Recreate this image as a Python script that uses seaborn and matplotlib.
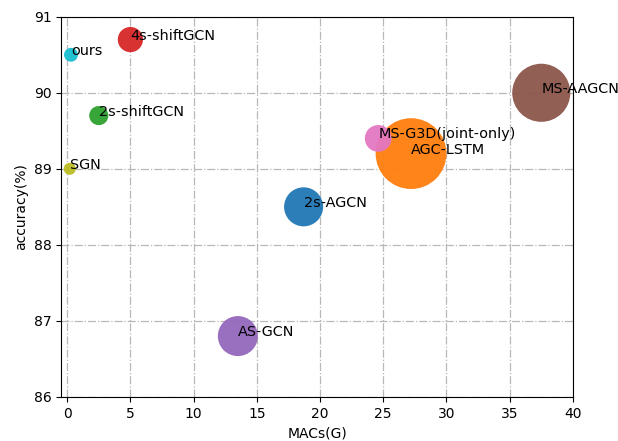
import matplotlib
matplotlib.use("Agg")
import matplotlib.pyplot as plt
import seaborn as sns
import pandas as pd

models = ["2s-AGCN", "AS-GCN", "2s-shiftGCN", "4s-shiftGCN", "MS-AAGCN",
          "AGC-LSTM", "MS-G3D(joint-only)", "SGN", "ours"]
macs = [18.7, 13.5, 2.5, 5.0, 37.5, 27.2, 24.6, 0.2, 0.3]
accuracy = [88.5, 86.8, 89.7, 90.7, 90.0, 89.2, 89.4, 89.0, 90.5]
bubble = [790, 830, 190, 330, 1750, 2600, 370, 75, 100]
colors = ["#1f77b4", "#9467bd", "#2ca02c", "#d62728", "#8c564b",
          "#ff7f0e", "#e377c2", "#bcbd22", "#17becf"]

df = pd.DataFrame({"model": models, "macs": macs, "acc": accuracy, "s": bubble})

fig = plt.figure(figsize=(6.18, 4.41), dpi=100)
ax = fig.add_axes([0.0995, 0.1, 0.8275, 0.862])

sns.scatterplot(data=df, x="macs", y="acc", hue="model",
                palette=dict(zip(models, colors)),
                size="model", sizes=dict(zip(models, bubble)),
                linewidth=0, alpha=0.95, legend=False, ax=ax, zorder=2)

for m, x, y in zip(models, macs, accuracy):
    ax.text(x, y, m, fontsize=10.4, zorder=3)

ax.set_xlim(-0.45, 40)
ax.set_ylim(86, 91)
ax.set_xticks(range(0, 41, 5))
ax.set_yticks(range(86, 92))
ax.set_axisbelow(True)
ax.grid(True, linestyle="-.", color="#b8b8b8", linewidth=0.9)
ax.set_xlabel("MACs(G)", fontsize=10)
ax.set_ylabel("accuracy(%)", fontsize=10)
for sp in ax.spines.values():
    sp.set_color("black")
    sp.set_linewidth(0.8)

fig.savefig("out.png", dpi=100)
